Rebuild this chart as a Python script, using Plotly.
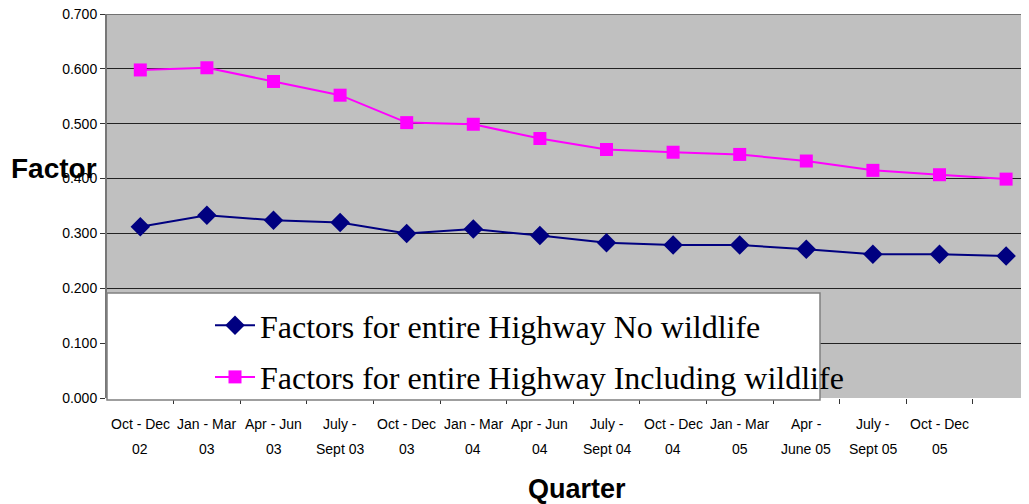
import plotly.graph_objects as go

categories = ["Oct - Dec 02", "Jan - Mar 03", "Apr - Jun 03", "July - Sept 03",
              "Oct - Dec 03", "Jan - Mar 04", "Apr - Jun 04", "July - Sept 04",
              "Oct - Dec 04", "Jan - Mar 05", "Apr - June 05", "July - Sept 05",
              "Oct - Dec 05", ""]
label_top = ["Oct - Dec", "Jan - Mar", "Apr - Jun", "July -", "Oct - Dec", "Jan - Mar",
             "Apr - Jun", "July -", "Oct - Dec", "Jan - Mar", "Apr -", "July -", "Oct - Dec", ""]
label_bottom = ["02", "03", "03", "Sept 03", "03", "04", "04", "Sept 04", "04", "05",
                "June 05", "Sept 05", "05", ""]
no_wildlife = [0.312, 0.333, 0.324, 0.320, 0.300, 0.308, 0.296, 0.283, 0.279, 0.279,
               0.271, 0.262, 0.262, 0.259]
incl_wildlife = [0.598, 0.602, 0.577, 0.552, 0.502, 0.499, 0.473, 0.453, 0.448, 0.444,
                 0.432, 0.415, 0.407, 0.399]
yticks = [0.0, 0.1, 0.2, 0.3, 0.4, 0.5, 0.6, 0.7]
ytext = ["0.000", "0.100", "0.200", "0.300", "0.400", "0.500", "0.600", "0.700"]
name_a = "Factors for entire Highway No wildlife"
name_b = "Factors for entire Highway Including wildlife"

OFF = 8  # page body margin
W, H = 1029 - OFF, 504 - OFF
PL, PT, PB = 107, 14, 398          # plot area edges in page pixels
L, T = PL - OFF, PT - OFF
B = H - (PB - OFF)
plot_w = W - L
plot_h = PB - PT
cat_px = 66.6
x_max = -0.5 + plot_w / cat_px
xkeys = list(range(len(categories)))


def px(page_x):
    return (page_x - PL) / plot_w


def py(page_y):
    return (PB - page_y) / plot_h


fig = go.Figure()
fig.add_trace(go.Scatter(x=xkeys, y=no_wildlife, name=name_a, mode="lines+markers",
                         line=dict(color="#000080", width=2),
                         marker=dict(symbol="diamond", size=15, color="#000080"),
                         legendgroup="a"))
fig.add_trace(go.Scatter(x=xkeys, y=incl_wildlife, name=name_b, mode="lines+markers",
                         line=dict(color="#FF00FF", width=2),
                         marker=dict(symbol="square", size=13, color="#FF00FF"),
                         legendgroup="b"))

# legend panel
fig.add_shape(type="rect", xref="paper", yref="paper",
              x0=0, x1=px(820), y0=py(400), y1=py(293),
              fillcolor="white", line=dict(color="#808080", width=1.5), layer="above")

# category labels (two lines each)
for k, (t1, t2) in enumerate(zip(label_top, label_bottom)):
    for txt, yy in ((t1, 424), (t2, 449)):
        if txt:
            fig.add_annotation(text=txt, x=k, xref="x", yref="paper", y=py(yy),
                               xanchor="center", yanchor="middle", showarrow=False,
                               font=dict(family="Liberation Sans, Arial", size=14, color="black"))

fig.add_annotation(text="<b>Factor</b>", xref="paper", yref="paper",
                   x=px(9), y=py(168), xanchor="left", yanchor="middle", showarrow=False,
                   font=dict(family="Liberation Sans, Arial", size=28, color="black"))
fig.add_annotation(text="<b>Quarter</b>", xref="paper", yref="paper",
                   x=px(577), y=py(489), xanchor="center", yanchor="middle", showarrow=False,
                   font=dict(family="Liberation Sans, Arial", size=27, color="black"))

fig.update_layout(
    width=W, height=H,
    margin=dict(l=L, r=0, t=T, b=B, pad=0, autoexpand=False),
    paper_bgcolor="white", plot_bgcolor="#C0C0C0",
    font=dict(family="Liberation Sans, Arial", size=14, color="black"),
    showlegend=True,
    legend=dict(x=px(210), y=py(298), xanchor="left", yanchor="top",
                bgcolor="rgba(0,0,0,0)", borderwidth=0, tracegroupgap=7,
                font=dict(family="Liberation Serif, Times New Roman", size=32, color="black"),
                itemwidth=40),
)
fig.update_xaxes(range=[-0.5, x_max], tickmode="array",
                 tickvals=[k + 0.5 for k in xkeys], ticktext=[""] * len(xkeys),
                 ticks="outside", ticklen=5, tickcolor="#333", showgrid=False,
                 showline=False, zeroline=False, showticklabels=False, automargin=False)
fig.update_yaxes(range=[0, 0.7], tickmode="array", tickvals=yticks, ticktext=ytext,
                 ticks="outside", ticklen=5, tickcolor="#333", ticklabeloverflow="allow",
                 showgrid=True, gridcolor="#222", gridwidth=1, automargin=False,
                 showline=True, linecolor="#777", linewidth=2, zeroline=False,
                 tickfont=dict(size=14, color="black"))
# top border of plot area (0.700 grid line)
fig.add_shape(type="line", xref="paper", yref="y", x0=0, x1=1, y0=yticks[-1], y1=yticks[-1],
              line=dict(color="#222", width=1), layer="below")

fig.write_html("out.html")
